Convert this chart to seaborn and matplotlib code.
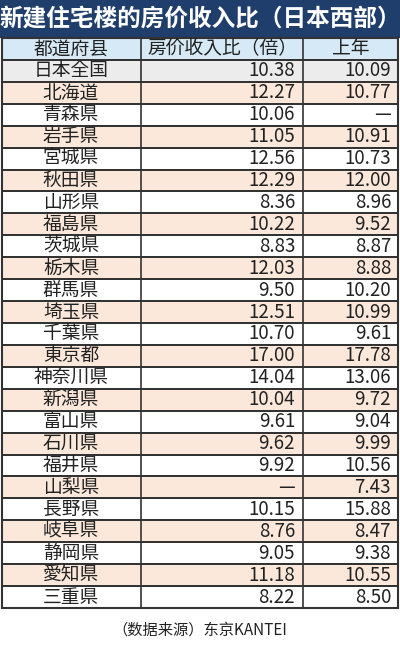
import numpy as np
import matplotlib
matplotlib.use("Agg")
import matplotlib.pyplot as plt
from matplotlib.colors import ListedColormap
import seaborn as sns

prefectures = ["日本全国", "北海道", "青森県", "岩手県", "宮城県", "秋田県", "山形県", "福島県",
               "茨城県", "栃木県", "群馬県", "埼玉県", "千葉県", "東京都", "神奈川県", "新潟県",
               "富山県", "石川県", "福井県", "山梨県", "長野県", "岐阜県", "静岡県", "愛知県", "三重県"]
ratio = ["10.38", "12.27", "10.06", "11.05", "12.56", "12.29", "8.36", "10.22", "8.83", "12.03",
         "9.50", "12.51", "10.70", "17.00", "14.04", "10.04", "9.61", "9.62", "9.92", "—",
         "10.15", "8.76", "9.05", "11.18", "8.22"]
last_year = ["10.09", "10.77", "—", "10.91", "10.73", "12.00", "8.96", "9.52", "8.87", "8.88",
             "10.20", "10.99", "9.61", "17.78", "13.06", "9.72", "9.04", "9.99", "10.56", "7.43",
             "15.88", "8.47", "9.38", "10.55", "8.50"]
headers = ["都道府县", "房价收入比（倍）", "上年"]
title = "新建住宅楼的房价收入比（日本西部）"
source = "（数据来源）东京KANTEI"

sns.set_style("white")
plt.rcParams['font.family'] = ['Noto Sans CJK JP', 'DejaVu Sans']

W, H = 400, 648
fig = plt.figure(figsize=(W / 100, H / 100), dpi=100)

# title band
tax = fig.add_axes([0, 1 - 38 / H, 1, 38 / H])
tax.set_facecolor("#1f3e6b")
tax.set_xticks([]); tax.set_yticks([])
for s in tax.spines.values():
    s.set_visible(False)
tax.text(0.5, 0.5, title, color="white", fontsize=17, fontweight="bold",
         ha="center", va="center", family=['Noto Sans CJK SC', 'DejaVu Sans'])

# table body via heatmap (row colours)
codes = [0, 1] + [2 if i % 2 == 1 else 3 for i in range(1, len(prefectures))]
grid = np.array(codes, dtype=float).reshape(-1, 1)
cmap = ListedColormap(["#d5e9f6", "#ececec", "#fbe8da", "#ffffff"])
top, bottom = 38, 608
ax = fig.add_axes([2 / W, 1 - bottom / H, 396 / W, (bottom - top) / H])
sns.heatmap(grid, ax=ax, cmap=cmap, vmin=-0.5, vmax=3.5, cbar=False,
            linewidths=1.2, linecolor="#333333", xticklabels=False, yticklabels=False)
ax.set_xlim(0, 1)
for xv in [139 / 396, 301 / 396]:
    ax.axvline(xv, color="#333333", lw=1.2)
for s in ax.spines.values():
    s.set_visible(True); s.set_color("#333333"); s.set_linewidth(1.5)

fs = 13.5
col_x = [69 / 396, 293 / 396, 389 / 396]
ax.text(col_x[0], 0.5, headers[0], ha="center", va="center", fontsize=fs, color="#222")
ax.text(220 / 396, 0.5, headers[1], ha="center", va="center", fontsize=fs, color="#222")
ax.text(349 / 396, 0.5, headers[2], ha="center", va="center", fontsize=fs, color="#222")
for i, (p, r, l) in enumerate(zip(prefectures, ratio, last_year)):
    y = i + 1.5
    ax.text(col_x[0], y, p, ha="center", va="center", fontsize=fs, color="#222")
    ax.text(col_x[1], y, r, ha="right", va="center", fontsize=fs, color="#222")
    ax.text(col_x[2], y, l, ha="right", va="center", fontsize=fs, color="#222")

fig.text(0.5, 1 - 630 / H, source, ha="center", va="center", fontsize=11, color="#222",
         family=['Noto Sans CJK SC', 'DejaVu Sans'])

fig.savefig("out.png", dpi=100, facecolor="white")
